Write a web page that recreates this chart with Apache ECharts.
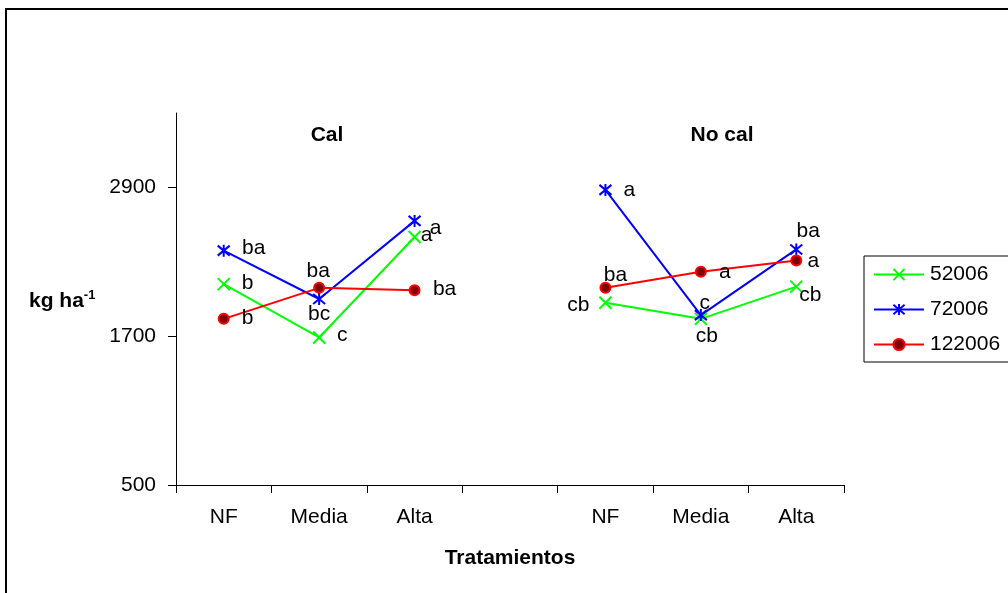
<!DOCTYPE html>
<html>
<head>
<meta charset="utf-8">
<script src="https://cdn.jsdelivr.net/npm/echarts@6/dist/echarts.min.js"></script>
<style>
html,body{margin:0;padding:0;background:#fff;}
#chart{width:1008px;height:593px;}
</style>
</head>
<body>
<div id="chart"></div>
<script>
const categories = ['NF', 'Media', 'Alta', '', 'NF', 'Media', 'Alta'];
const seriesNames = ['52006', '72006', '122006'];
const s52006 = [2120, 1690, 2500, null, 1970, 1840, 2100];
const s72006 = [2390, 2000, 2630, null, 2880, 1870, 2400];
const s122006 = [1840, 2090, 2070, null, 2090, 2220, 2310];
const lbl52006 = ['b', 'c', 'a', '', 'cb', 'cb', 'cb'];
const lbl72006 = ['ba', 'bc', 'a', '', 'a', 'c', 'ba'];
const lbl122006 = ['b', 'ba', 'ba', '', 'ba', 'a', 'a'];
const yTicks = [500, 1700, 2900];
const panelTitles = ['Cal', 'No cal'];
const yName = 'kg ha';
const yNameSup = '-1';
const xName = 'Tratamientos';

// label placement (layout only)
const off52006 = [[24, -1], [23, -2], [12, -2], null, [-27, 2], [6, 17], [14, 9]];
const off72006 = [[30, -2], [0, 15], [21, 7], null, [24, 0], [4, -12], [12, -18]];
const off122006 = [[24, -1], [-1, -17], [30, -1], null, [10, -13], [24, 0], [17, 1]];

const FONT = '"Liberation Sans", Arial, sans-serif';
const FS = 21;

function buildData(vals, lbls, offs) {
  return vals.map((v, i) => v == null ? null : {
    value: v,
    label: { formatter: lbls[i], offset: offs[i] }
  });
}

const baseLabel = {
  show: true, position: 'inside', align: 'center', verticalAlign: 'middle',
  color: '#000', fontSize: FS, fontFamily: FONT
};

const chart = echarts.init(document.getElementById('chart'), null, { renderer: 'canvas' });
chart.setOption({
  animation: false,
  backgroundColor: '#fff',
  textStyle: { fontFamily: FONT },
  grid: { left: 176, right: 164, top: 113, bottom: 108, containLabel: false },
  xAxis: {
    type: 'category',
    data: categories,
    boundaryGap: true,
    axisLine: { lineStyle: { color: '#000', width: 1 } },
    axisTick: { show: true, length: 8, lineStyle: { color: '#000' }, alignWithLabel: false },
    axisLabel: { color: '#000', fontSize: FS, fontFamily: FONT, margin: 22, interval: 0 },
    name: xName,
    nameLocation: 'middle',
    nameGap: 63,
    nameTextStyle: { color: '#000', fontSize: FS, fontWeight: 'bold', fontFamily: FONT },
    splitLine: { show: false }
  },
  yAxis: {
    type: 'value',
    min: 500, max: 3500, interval: 1200,
    axisLine: { show: true, lineStyle: { color: '#000', width: 1 } },
    axisTick: { show: true, length: 8, lineStyle: { color: '#000' }, customValues: yTicks },
    axisLabel: { color: '#000', fontSize: FS, fontFamily: FONT, margin: 20, customValues: yTicks, formatter: v => String(v) },
    splitLine: { show: false }
  },
  legend: {
    orient: 'vertical',
    left: 864, top: 256,
    padding: [8, 14, 7, 9],
    itemWidth: 50, itemHeight: 14, itemGap: 14,
    borderColor: '#000', borderWidth: 1,
    textStyle: { color: '#000', fontSize: FS, fontFamily: FONT, padding: [0, 0, 0, 1] },
    data: seriesNames
  },
  graphic: [
    { type: 'text', x: 327, y: 135, style: { text: panelTitles[0], fill: '#000', font: 'bold 21px ' + FONT, textAlign: 'center', textVerticalAlign: 'middle' } },
    { type: 'text', x: 722, y: 135, style: { text: panelTitles[1], fill: '#000', font: 'bold 21px ' + FONT, textAlign: 'center', textVerticalAlign: 'middle' } },
    { type: 'text', x: 29, y: 301, style: {
        text: '{m|' + yName + '}{s|' + yNameSup + '}', textVerticalAlign: 'middle',
        rich: {
          m: { fontSize: FS, fontWeight: 'bold', fontFamily: FONT, color: '#000' },
          s: { fontSize: 13, fontWeight: 'bold', fontFamily: FONT, color: '#000', verticalAlign: 'top', padding: [0, 0, 12, 0] }
        }
      } },
    { type: 'rect', shape: { x: 6, y: 9, width: 1100, height: 700 }, style: { fill: null, stroke: '#000', lineWidth: 2 }, silent: true }
  ],
  series: [
    {
      name: seriesNames[0], type: 'line',
      data: buildData(s52006, lbl52006, off52006),
      symbol: 'path://M0,0L10,10M0,10L10,0', symbolSize: 12,
      lineStyle: { color: '#00ff00', width: 2 },
      itemStyle: { color: '#00ff00', borderColor: '#00ff00', borderWidth: 2 },
      label: baseLabel
    },
    {
      name: seriesNames[1], type: 'line',
      data: buildData(s72006, lbl72006, off72006),
      symbol: 'path://M0,0L10,10M0,10L10,0M5,-1L5,11', symbolSize: 12,
      lineStyle: { color: '#0000ff', width: 2 },
      itemStyle: { color: '#0000ff', borderColor: '#0000ff', borderWidth: 2 },
      label: baseLabel
    },
    {
      name: seriesNames[2], type: 'line',
      data: buildData(s122006, lbl122006, off122006),
      symbol: 'circle', symbolSize: 10,
      lineStyle: { color: '#ff0000', width: 2 },
      itemStyle: { color: '#800000', borderColor: '#ff0000', borderWidth: 2 },
      label: baseLabel
    }
  ]
});
</script>
</body>
</html>
